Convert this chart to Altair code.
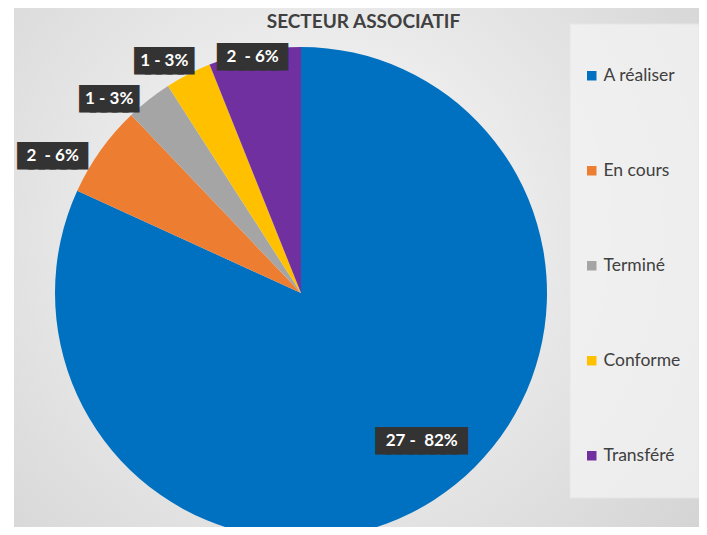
import altair as alt
import pandas as pd

# ---- data ----
categories = ["A réaliser", "En cours", "Terminé", "Conforme", "Transféré"]
counts = [27, 2, 1, 1, 2]
labels = ["27 -\u00a0\u00a082%", "2\u00a0\u00a0- 6%", "1 - 3%", "1 - 3%", "2\u00a0\u00a0- 6%"]
colors = ["#0070C0", "#ED7D31", "#A5A5A5", "#FFC000", "#7030A0"]
title_text = "SECTEUR ASSOCIATIF"

df = pd.DataFrame({
    "idx": list(range(len(categories))),
    "category": categories,
    "count": counts,
    "label": labels,
})
df["box"] = ["\u2588" * (len(t) - 1) for t in labels]

W, H = 691, 519
CX, CY, R = 293, 285, 246
FONT = "Lato"

blank = alt.Chart(pd.DataFrame({"k": [0]}))

background = blank.mark_rect(
    color=alt.RadialGradient(
        gradient="radial",
        stops=[alt.GradientStop(offset=0, color="#fbfbfb"),
               alt.GradientStop(offset=1, color="#d3d3d3")],
        x1=0.45, y1=0.45, r1=0, x2=0.45, y2=0.45, r2=0.72,
    )
).encode(x=alt.value(6), x2=alt.value(W), y=alt.value(0), y2=alt.value(H))

legend_box = blank.mark_rect(fill="#f4f4f4", opacity=0.75, stroke="#e8e8e8", strokeWidth=1).encode(
    x=alt.value(562), x2=alt.value(W), y=alt.value(16), y2=alt.value(490)
)

base = alt.Chart(df)

pie = base.mark_arc(radius=R).encode(
    theta=alt.Theta("count:Q", stack=True),
    color=alt.Color(
        "category:N",
        sort=categories,
        scale=alt.Scale(domain=categories, range=colors),
        legend=alt.Legend(
            title=None, orient="none", legendX=575, legendY=59, direction="vertical",
            symbolType="square", symbolSize=90, symbolStrokeWidth=0,
            labelFont=FONT, labelFontSize=17.5, labelColor="#404040",
            rowPadding=76, labelOffset=3, padding=0,
        ),
    ),
    order=alt.Order("idx:Q"),
    x=alt.value(CX),
    y=alt.value(CY),
)

mids = base.transform_joinaggregate(
    total="sum(count)"
).transform_window(
    cum="sum(count)", sort=[alt.SortField("idx")], frame=[None, 0]
).transform_calculate(
    mid="2*PI*(datum.cum - datum.count/2)/datum.total"
)

# label placement (radius, dx, dy) per slice, Excel "best fit"-like
placement = {
    "A réaliser": (190, 18, -12),
    "En cours": (284, -17, 28),
    "Terminé": (273, -23, 21),
    "Conforme": (270, -13, 8),
    "Transféré": (240, -3, 0),
}

label_layers = []
for cat, (r, ddx, ddy) in placement.items():
    sub = mids.transform_filter(alt.datum.category == cat)
    box = sub.mark_text(
        radius=r, dx=ddx, dy=ddy + 1, font="DejaVu Sans Mono", fontSize=18,
        color="#333333", stroke="#333333", strokeWidth=6, strokeJoin="miter",
        baseline="middle", align="center",
    ).encode(theta=alt.Theta("mid:Q", scale=None), text="box:N",
             x=alt.value(CX), y=alt.value(CY))
    txt = sub.mark_text(
        radius=r, dx=ddx, dy=ddy, font=FONT, fontSize=17, fontWeight="bold",
        color="white", baseline="middle", align="center",
    ).encode(theta=alt.Theta("mid:Q", scale=None), text="label:N",
             x=alt.value(CX), y=alt.value(CY))
    label_layers += [box, txt]

chart = alt.layer(background, legend_box, pie, *label_layers).properties(
    width=W, height=H,
    title=alt.Title(title_text, font=FONT, fontSize=19, fontWeight="bold", color="#404040",
                    anchor="middle", dx=10, dy=28),
    autosize=alt.AutoSizeParams(type="none"),
    padding=0,
).configure_view(stroke=None)

chart.save("out.html", embed_options={"renderer": "svg", "actions": False})
